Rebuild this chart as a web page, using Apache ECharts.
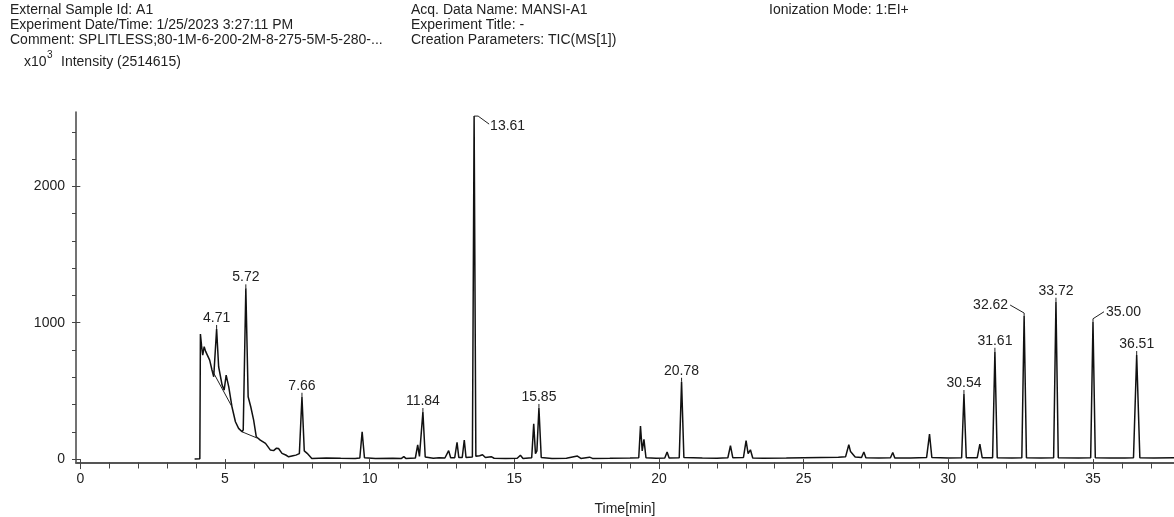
<!DOCTYPE html>
<html>
<head>
<meta charset="utf-8">
<script src="https://cdn.jsdelivr.net/npm/echarts@6/dist/echarts.min.js"></script>
<style>
  html, body { margin: 0; padding: 0; background: #fff; }
  #tic { width: 1174px; height: 517px; }
</style>
</head>
<body>
<div id="tic"></div>
<script>
// TIC trace, [time (min), intensity (x10^3)]
var traceSolvent = [
  [3.95,0],[4.13,2],[4.15,917],[4.19,830],[4.23,763],[4.28,824],[4.33,790],[4.38,800],
  [4.47,726],[4.55,653],[4.61,604],[4.71,954],[4.78,677],[4.90,543],[4.97,506],[5.04,616],
  [5.13,530],[5.24,384],[5.36,274],[5.47,225],[5.59,200],[5.63,215],[5.72,1252],[5.80,457],
  [5.89,384],[5.99,286],[6.08,164],[6.22,139],[6.40,115],[6.57,66],[6.68,62],[6.78,80],
  [6.85,78],[6.97,42],[7.10,30],[7.20,17],[7.35,25],[7.45,29],[7.57,40],[7.66,457],
  [7.74,60],[7.84,42],[8.00,5]
];
var traceMid = [
  [8.5,8],[9.0,6],[9.5,5],[9.66,8],[9.74,200],[9.82,10],[10.2,5],[10.8,6],[11.1,5],
  [11.18,18],[11.25,5],[11.58,8],[11.66,105],[11.72,20],[11.84,345],[11.92,15],[12.2,6],
  [12.4,10],[12.6,8],[12.73,62],[12.8,10],[12.94,10],[13.02,122],[13.08,12],[13.2,12],
  [13.27,140],[13.33,12],[13.55,15],[13.61,2515],[13.67,20],[13.8,25],[13.9,32],[14.0,12],
  [14.2,18],[14.3,6],[14.7,5],[15.1,6],[15.21,28],[15.3,5],[15.6,10],[15.67,258],[15.73,40],
  [15.78,60],[15.85,375],[15.93,12],[16.3,5],[16.8,6],[17.18,22],[17.3,5],[17.6,14],
  [17.7,5],[18.3,6],[19.0,8],[19.30,10],[19.36,243],[19.42,60],[19.48,145],[19.55,10],
  [19.9,6],[20.2,8],[20.28,52],[20.35,8],[20.70,10],[20.78,567],[20.86,12],[21.5,8],
  [22.0,6],[22.38,10],[22.47,98],[22.55,10],[22.92,12],[23.01,135],[23.08,40],[23.16,68],
  [23.24,8],[23.6,6]
];
var traceLate = [
  [24.4,8],[25.0,10],[25.6,12],[26.2,14],[26.45,18],[26.56,105],[26.62,55],[26.68,62],
  [26.78,15],[27.0,12],[27.08,52],[27.15,10],[27.6,8],[28.0,10],[28.08,48],[28.15,8],
  [28.7,8],[29.25,12],[29.35,183],[29.43,12],[30.0,8],[30.46,10],[30.54,477],[30.62,10],
  [31.0,10],[31.09,110],[31.17,10],[31.53,10],[31.61,787],[31.69,10],[32.2,8],[32.54,10],
  [32.62,1049],[32.70,10],[33.2,8],[33.64,10],[33.72,1154],[33.80,10],[34.5,8],[34.92,10],
  [35.00,1007],[35.08,10],[35.6,8],[36.1,8],[36.40,10],[36.51,763],[36.62,10],[37.1,8],
  [37.8,10]
];

// integration baselines under the solvent peaks
var baseline1 = [[4.56,650],[5.24,384]];
var baseline2 = [[5.59,200],[6.10,155]];

// labelled peaks
var peakTimes = [4.71, 5.72, 7.66, 11.84, 13.61, 15.85, 20.78, 30.54, 31.61, 32.62, 33.72, 35.00, 36.51];
var peakHeights = [954, 1252, 457, 345, 2515, 375, 567, 477, 787, 1049, 1154, 1007, 763];

// axis ticks
var xLabelTicks = [0, 5, 10, 15, 20, 25, 30, 35];
var xMinorTicks = [0,1,2,3,4,5,6,7,8,9,10,11,12,13,14,15,16,17,18,19,20,21,22,23,24,25,26,27,28,29,30,31,32,33,34,35,36,37];
var yLabelTicks = [0, 1000, 2000];
var yMinorTicks = [0,200,400,600,800,1000,1200,1400,1600,1800,2000,2200,2400];

var FONT = '"Liberation Sans", Arial, sans-serif';
var chart = echarts.init(document.getElementById('tic'));

var peakData = peakTimes.map(function (t, i) { return [t, peakHeights[i]]; });

// leader lines for the crowded labels
var leaderSide = { '13.61': 'right', '32.62': 'left', '35.00': 'rightUp' };

function renderPeakLabel(params, api) {
  var p = api.coord([api.value(0), api.value(1)]);
  var txt = api.value(0).toFixed(2);
  var side = leaderSide[txt];
  var pts, tx, ty, align, valign;
  if (side === 'right') {
    pts = [[p[0], p[1]], [p[0] + 4, p[1]], [p[0] + 15, p[1] + 8]];
    tx = p[0] + 16; ty = p[1] + 10; align = 'left'; valign = 'middle';
  } else if (side === 'left') {
    pts = [[p[0], p[1]], [p[0], p[1] - 3], [p[0] - 14, p[1] - 11]];
    tx = p[0] - 16; ty = p[1] - 11; align = 'right'; valign = 'middle';
  } else if (side === 'rightUp') {
    pts = [[p[0], p[1]], [p[0], p[1] - 3], [p[0] + 11, p[1] - 10]];
    tx = p[0] + 13; ty = p[1] - 10; align = 'left'; valign = 'middle';
  } else {
    pts = [[p[0], p[1]], [p[0], p[1] - 4]];
    tx = p[0]; ty = p[1] - 4; align = 'center'; valign = 'bottom';
  }
  return {
    type: 'group',
    children: [
      { type: 'polyline', shape: { points: pts }, style: { stroke: '#222', lineWidth: 1, fill: null } },
      { type: 'text', style: { x: tx, y: ty, text: txt, font: '14px ' + FONT, fill: '#222',
          textAlign: align, textVerticalAlign: valign } }
    ]
  };
}

var headerStyle = { font: '14px ' + FONT, fill: '#222', lineHeight: 15 };

option = {
  animation: false,
  backgroundColor: '#fff',
  grid: { left: 76, right: 0, top: 112, bottom: 54.5, containLabel: false, outerBoundsMode: 'none' },
  graphic: [
    { type: 'text', x: 10, y: 3, style: Object.assign({
        text: 'External Sample Id: A1\nExperiment Date/Time: 1/25/2023 3:27:11 PM\nComment: SPLITLESS;80-1M-6-200-2M-8-275-5M-5-280-...'
      }, headerStyle) },
    { type: 'text', x: 411, y: 3, style: Object.assign({
        text: 'Acq. Data Name: MANSI-A1\nExperiment Title: -\nCreation Parameters: TIC(MS[1])'
      }, headerStyle) },
    { type: 'text', x: 769, y: 3, style: Object.assign({ text: 'Ionization Mode: 1:EI+' }, headerStyle) },
    { type: 'text', x: 24, y: 55, style: { text: 'x10', font: '14px ' + FONT, fill: '#222' } },
    { type: 'text', x: 47, y: 50, style: { text: '3', font: '10px ' + FONT, fill: '#222' } },
    { type: 'text', x: 61, y: 55, style: { text: 'Intensity (2514615)', font: '14px ' + FONT, fill: '#222' } }
  ],
  xAxis: [
    {
      type: 'value', min: -0.15, max: 37.8,
      name: 'Time[min]', nameLocation: 'middle', nameGap: 40,
      nameTextStyle: { fontFamily: FONT, fontSize: 14, color: '#222' },
      axisLine: { onZero: false, lineStyle: { color: '#555', width: 2 } },
      axisTick: { customValues: xMinorTicks, length: 6, lineStyle: { color: '#444' } },
      axisLabel: { customValues: xLabelTicks, margin: 10, fontFamily: FONT, fontSize: 14, color: '#222' },
      splitLine: { show: false }
    },
    {
      type: 'value', min: -0.15, max: 37.8, position: 'bottom',
      axisLine: { show: false },
      axisTick: { customValues: xLabelTicks, length: 10, lineStyle: { color: '#444' } },
      axisLabel: { show: false },
      splitLine: { show: false }
    }
  ],
  yAxis: [
    {
      type: 'value', min: -25, max: 2545,
      axisLine: { show: true, onZero: false, lineStyle: { color: '#444', width: 1.5 } },
      axisTick: { customValues: yMinorTicks, length: 4, lineStyle: { color: '#444' } },
      axisLabel: {
        customValues: yLabelTicks, margin: 11, fontFamily: FONT, fontSize: 14, color: '#222',
        formatter: function (v) { return String(v); }
      },
      splitLine: { show: false }
    },
    {
      type: 'value', min: -25, max: 2545, position: 'left',
      axisLine: { show: false },
      axisTick: { show: true, customValues: yLabelTicks, length: 7, lineStyle: { color: '#444' } },
      axisLabel: { show: false },
      splitLine: { show: false }
    }
  ],
  series: [
    {
      name: 'TIC', type: 'line', showSymbol: false, silent: true,
      data: traceSolvent.concat(traceMid, traceLate),
      lineStyle: { color: '#111', width: 1.5 }
    },
    {
      type: 'line', showSymbol: false, silent: true, data: baseline1,
      lineStyle: { color: '#222', width: 1 }
    },
    {
      type: 'line', showSymbol: false, silent: true, data: baseline2,
      lineStyle: { color: '#222', width: 1 }
    },
    {
      type: 'custom', renderItem: renderPeakLabel, data: peakData, silent: true, z: 5
    }
  ]
};

chart.setOption(option);
</script>
</body>
</html>
